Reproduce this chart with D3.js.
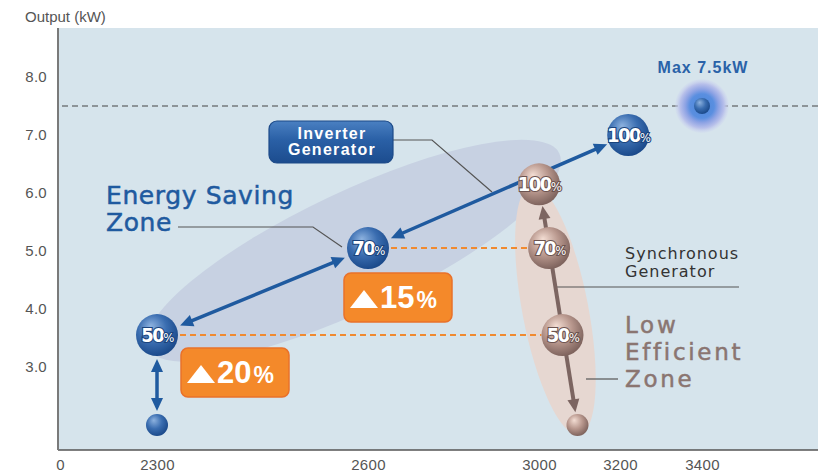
<!DOCTYPE html>
<html>
<head>
<meta charset="utf-8">
<style>
    body { margin: 0; background: #fff; }
    svg text { font-family: "Liberation Sans", Arial, sans-serif; }
    .tick text { fill: #555; font-size: 15px; }
</style>
<script src="https://d3js.org/d3.v7.min.js"></script>
</head>
<body>
<svg width="818" height="472"></svg>
<script>
// axis ticks (the x axis in the picture is not linear, so the scale is piecewise)
const xTicks = [0, 2300, 2600, 3000, 3200, 3400];
const yTicks = [3, 4, 5, 6, 7, 8];

// inverter generator: engine speed (rpm) and output (kW)
const invRpm = [2300, 2300, 2600, 3220];
const invKw = [2.0, 3.55, 5.05, 7.0];
const invLabel = ["", "50", "70", "100"];

// synchronous generator
const synRpm = [3000, 3025, 3058, 3095];
const synKw = [6.15, 5.05, 3.55, 2.0];
const synLabel = ["100", "70", "50", ""];

// max output
const maxRpm = 3400;
const maxKw = 7.5;

// fuel saving boxes, attached to inverter point index
const savePct = ["20", "15"];
const saveAt = [1, 2];

const svg = d3.select("svg");
const plotL = 58, plotR = 818, plotT = 28, plotB = 450;

const x = d3.scaleLinear().domain(xTicks).range([60, 157, 368, 539, 620, 702]);
const y = d3.scaleLinear().domain([3, 8]).range([367, 77]);

const defs = svg.append("defs");
function ball(id, c0, c1, c2) {
    let g = defs.append("radialGradient").attr("id", id)
        .attr("cx", "42%").attr("cy", "38%").attr("r", "62%")
        .attr("fx", "35%").attr("fy", "28%");
    g.append("stop").attr("offset", "0%").attr("stop-color", c0);
    g.append("stop").attr("offset", "55%").attr("stop-color", c1);
    g.append("stop").attr("offset", "100%").attr("stop-color", c2);
}
ball("blueBall", "#8db2df", "#3a6db0", "#1b4a8b");
ball("brownBall", "#f3ddd3", "#b8978d", "#7f645e");

let glow = defs.append("radialGradient").attr("id", "glow");
glow.append("stop").attr("offset", "0%").attr("stop-color", "#4c86d8");
glow.append("stop").attr("offset", "45%").attr("stop-color", "#5a8fe0");
glow.append("stop").attr("offset", "62%").attr("stop-color", "#8ea3e4");
glow.append("stop").attr("offset", "82%").attr("stop-color", "#b8c0ea");
glow.append("stop").attr("offset", "100%").attr("stop-color", "#d0d8ef").attr("stop-opacity", 0.3);

let boxGrad = defs.append("linearGradient").attr("id", "boxGrad")
    .attr("x1", 0).attr("y1", 0).attr("x2", 0).attr("y2", 1);
boxGrad.append("stop").attr("offset", "0%").attr("stop-color", "#4a80c2");
boxGrad.append("stop").attr("offset", "45%").attr("stop-color", "#2a60a6");
boxGrad.append("stop").attr("offset", "100%").attr("stop-color", "#1c4c8e");

// plot background
svg.append("rect")
    .attr("x", plotL).attr("y", plotT)
    .attr("width", plotR - plotL).attr("height", plotB - plotT)
    .attr("fill", "#d6e4ec");

// axes
svg.append("g")
    .attr("transform", "translate(0," + plotB + ")")
    .call(d3.axisBottom(x).tickValues(xTicks).tickSize(0).tickPadding(9).tickFormat(d => d))
    .call(g => g.select(".domain").remove());
svg.append("g")
    .attr("transform", "translate(" + plotL + ",0)")
    .call(d3.axisLeft(y).tickValues(yTicks).tickSize(0).tickPadding(11).tickFormat(d3.format(".1f")))
    .call(g => g.select(".domain").remove());
svg.selectAll(".tick text").attr("fill", "#555").attr("letter-spacing", 0.3);

svg.append("line").attr("x1", plotL).attr("x2", plotR).attr("y1", plotB).attr("y2", plotB)
    .attr("stroke", "#555").attr("stroke-width", 1.6);
svg.append("line").attr("x1", plotL).attr("x2", plotL).attr("y1", plotT).attr("y2", plotB)
    .attr("stroke", "#7a7a7a").attr("stroke-width", 2);

svg.append("text").attr("x", 25).attr("y", 22)
    .attr("font-size", 15).attr("fill", "#555").text("Output (kW)");

// zone ellipses, stretched between data points
function zone(p0, p1, ext0, ext1, ry, fill) {
    let x0 = x(p0[0]), y0 = y(p0[1]), x1 = x(p1[0]), y1 = y(p1[1]);
    let ang = Math.atan2(y1 - y0, x1 - x0);
    let len = Math.hypot(x1 - x0, y1 - y0);
    let ux = Math.cos(ang), uy = Math.sin(ang);
    let ax = x0 - ux * ext0, ay = y0 - uy * ext0;
    let bx = x1 + ux * ext1, by = y1 + uy * ext1;
    svg.append("ellipse")
        .attr("cx", (ax + bx) / 2).attr("cy", (ay + by) / 2)
        .attr("rx", (len + ext0 + ext1) / 2).attr("ry", ry)
        .attr("transform", "rotate(" + (ang * 180 / Math.PI) + "," + (ax + bx) / 2 + "," + (ay + by) / 2 + ")")
        .attr("fill", fill);
}
zone([invRpm[1], invKw[1] - 0.15], [synRpm[0] + 10, synKw[0] + 0.4], 10, 18, 59, "#c7d1e2");
zone([synRpm[0], synKw[0] - 0.7], [synRpm[3], synKw[3]], 40, 10, 33, "#e6d7d1");

// max line
svg.append("line")
    .attr("x1", plotL + 4).attr("x2", plotR)
    .attr("y1", y(maxKw)).attr("y2", y(maxKw))
    .attr("stroke", "#444").attr("stroke-width", 1.2).attr("stroke-dasharray", "6,4");

// orange dashed comparison lines
const R = 21, r = 11;
saveAt.forEach(function(i) {
    let j = synKw.indexOf(invKw[i]);
    svg.append("line")
        .attr("x1", x(invRpm[i]) + R + 2).attr("x2", x(synRpm[j]) - R)
        .attr("y1", y(invKw[i])).attr("y2", y(synKw[j]))
        .attr("stroke", "#f08a30").attr("stroke-width", 2).attr("stroke-dasharray", "6,4");
});

// leader lines
function leader(pts) {
    svg.append("path").attr("d", d3.line()(pts))
        .attr("fill", "none").attr("stroke", "#555").attr("stroke-width", 1.2);
}
leader([[393, 140], [432, 140], [492, 192]]);
leader([[178, 227], [313, 227], [342, 247]]);
leader([[555, 287], [739, 287]]);
leader([[586, 379], [618, 379]]);

// arrows
function arrow(p0, p1, s0, s1, heads, color, w) {
    let x0 = x(p0[0]), y0 = y(p0[1]), x1 = x(p1[0]), y1 = y(p1[1]);
    let ang = Math.atan2(y1 - y0, x1 - x0);
    let ux = Math.cos(ang), uy = Math.sin(ang);
    let ax = x0 + ux * s0, ay = y0 + uy * s0;
    let bx = x1 - ux * s1, by = y1 - uy * s1;
    let hl = 13, hw = 6;
    let lx0 = ax + (heads[0] ? ux * (hl - 2) : 0), ly0 = ay + (heads[0] ? uy * (hl - 2) : 0);
    let lx1 = bx - (heads[1] ? ux * (hl - 2) : 0), ly1 = by - (heads[1] ? uy * (hl - 2) : 0);
    svg.append("line").attr("x1", lx0).attr("y1", ly0).attr("x2", lx1).attr("y2", ly1)
        .attr("stroke", color).attr("stroke-width", w);
    function head(tx, ty, dx, dy) {
        let bxh = tx - dx * hl, byh = ty - dy * hl;
        svg.append("path")
            .attr("d", "M" + tx + "," + ty + "L" + (bxh - dy * hw) + "," + (byh + dx * hw) +
                "L" + (bxh + dy * hw) + "," + (byh - dx * hw) + "Z")
            .attr("fill", color);
    }
    if (heads[0]) head(ax, ay, -ux, -uy);
    if (heads[1]) head(bx, by, ux, uy);
}
const blue = "#1f5a9f", brown = "#7c6561";
arrow([invRpm[0], invKw[0]], [invRpm[1], invKw[1]], r + 3, R + 3, [true, true], blue, 3.5);
arrow([invRpm[1], invKw[1]], [invRpm[2], invKw[2]], R + 4, R + 4, [true, true], blue, 3.5);
arrow([invRpm[2], invKw[2]], [invRpm[3], invKw[3]], R + 4, R + 2, [true, true], blue, 3.5);
arrow([synRpm[0], synKw[0]], [synRpm[3], synKw[3]], R + 1, r + 2, [true, true], brown, 4);

// balls
function balls(rpm, kw, labels, fill, edge) {
    rpm.forEach(function(d, i) {
        let cx = x(d), cy = y(kw[i]);
        let big = labels[i] !== "";
        svg.append("circle").attr("cx", cx).attr("cy", cy).attr("r", big ? R : r)
            .attr("fill", fill);
        if (big) {
            let t = svg.append("text").attr("x", cx).attr("y", cy + 7)
                .attr("text-anchor", "middle")
                .style("font-family", "'DejaVu Sans Condensed', 'Liberation Sans Narrow', sans-serif")
                .attr("font-weight", "bold")
                .attr("fill", "#fff").attr("stroke", edge).attr("stroke-width", 2.2)
                .attr("paint-order", "stroke").attr("letter-spacing", -1.6);
            t.append("tspan").attr("font-size", 20).text(labels[i]);
            t.append("tspan").attr("font-size", 13).attr("font-weight", "normal").text("%");
        }
    });
}
balls(invRpm, invKw, invLabel, "url(#blueBall)", "#1a437c");
balls(synRpm, synKw, synLabel, "url(#brownBall)", "#6c5450");

// max glow
svg.append("circle").attr("cx", x(maxRpm)).attr("cy", y(maxKw)).attr("r", 27).attr("fill", "url(#glow)");
svg.append("circle").attr("cx", x(maxRpm)).attr("cy", y(maxKw)).attr("r", 8).attr("fill", "url(#blueBall)");
svg.append("text").attr("x", x(maxRpm) + 1).attr("y", y(maxKw) - 33)
    .attr("text-anchor", "middle").attr("font-size", 16).attr("font-weight", "bold")
    .attr("letter-spacing", 1).attr("fill", "#2a62a8").text("Max 7.5kW");

// saving boxes
const boxOff = [[24, 13], [-24, 25]];
saveAt.forEach(function(i, k) {
    let bx = x(invRpm[i]) + boxOff[k][0], by = y(invKw[i]) + boxOff[k][1];
    svg.append("rect").attr("x", bx).attr("y", by).attr("width", 108).attr("height", 49)
        .attr("rx", 7).attr("fill", "#f4892a").attr("stroke", "#e9712a").attr("stroke-width", 1.5);
    svg.append("path")
        .attr("d", "M" + (bx + 6) + "," + (by + 35) + "L" + (bx + 34) + "," + (by + 35) +
            "L" + (bx + 20) + "," + (by + 17) + "Z")
        .attr("fill", "#fff");
    let t = svg.append("text").attr("x", bx + 36).attr("y", by + 35).attr("fill", "#fff")
        .attr("font-weight", "bold");
    t.append("tspan").attr("font-size", 31).text(savePct[k]);
    t.append("tspan").attr("font-size", 23).attr("dx", 2).text("%");
});

// inverter generator tag
svg.append("rect").attr("x", 269).attr("y", 121).attr("width", 124).attr("height", 42)
    .attr("rx", 8).attr("fill", "url(#boxGrad)").attr("stroke", "#1d4a88").attr("stroke-width", 1.2);
svg.append("text").attr("x", 331).attr("y", 0).attr("text-anchor", "middle")
    .attr("font-size", 16).attr("font-weight", "bold").attr("fill", "#fff").attr("letter-spacing", 1.3)
    .selectAll("tspan").data(["Inverter", "Generator"]).join("tspan")
    .attr("x", 332).attr("y", (d, i) => 139 + i * 16).text(d => d);

// zone labels
svg.append("text").attr("font-size", 25).attr("fill", "#1f5a9f").attr("letter-spacing", 0.6)
    .attr("stroke", "#1f5a9f").attr("stroke-width", 0.5)
    .style("font-family", "'DejaVu Sans', sans-serif")
    .selectAll("tspan").data(["Energy Saving", "Zone"]).join("tspan")
    .attr("x", 106).attr("y", (d, i) => 204 + i * 27).text(d => d);

svg.append("text").attr("font-size", 16).attr("fill", "#333").attr("letter-spacing", 1)
    .style("font-family", "'DejaVu Sans', sans-serif")
    .selectAll("tspan").data(["Synchronous", "Generator"]).join("tspan")
    .attr("x", 625).attr("y", (d, i) => 259 + i * 18).text(d => d);

svg.append("text").attr("font-size", 23).attr("fill", "#8a7571").attr("letter-spacing", 2.7)
    .attr("stroke", "#8a7571").attr("stroke-width", 0.5)
    .style("font-family", "'DejaVu Sans', sans-serif")
    .selectAll("tspan").data(["Low", "Efficient", "Zone"]).join("tspan")
    .attr("x", 625).attr("y", (d, i) => 333 + i * 27).text(d => d);
</script>
</body>
</html>
